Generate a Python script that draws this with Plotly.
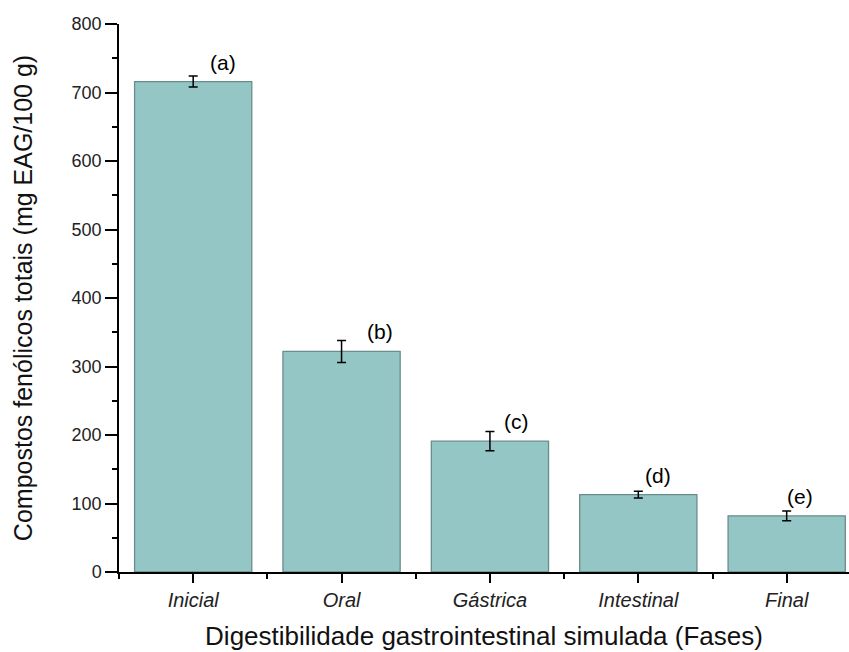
import plotly.graph_objects as go

# Total phenolic compounds across simulated digestion phases
phases = ["Inicial", "Oral", "Gástrica", "Intestinal", "Final"]
phenolics = [716, 322, 191, 113, 82]
std_dev = [8, 16, 14, 5, 7]
letters = ["(a)", "(b)", "(c)", "(d)", "(e)"]

# horizontal nudge of each significance letter (category units)
letter_dx = [0.2, 0.26, 0.18, 0.13, 0.09]

font_family = "Liberation Sans, Arial, sans-serif"
x_idx = list(range(len(phases)))

fig = go.Figure()
fig.add_trace(go.Bar(
    x=x_idx,
    y=phenolics,
    width=0.79,
    marker=dict(color="rgb(147,198,197)", line=dict(color="rgb(105,140,140)", width=1.3)),
    error_y=dict(type="data", array=std_dev, visible=True, color="black",
                 thickness=1.5, width=4.5),
    showlegend=False,
    cliponaxis=False,
))

for i, (lab, v, dx) in enumerate(zip(letters, phenolics, letter_dx)):
    fig.add_annotation(x=i + dx, y=v, text=lab, showarrow=False,
                       xanchor="center", yanchor="bottom", yshift=6,
                       font=dict(size=21, color="black", family=font_family))

fig.update_layout(
    width=849, height=652,
    margin=dict(l=119, r=0, t=24, b=80),
    plot_bgcolor="white", paper_bgcolor="white",
    font=dict(family=font_family, color="black"),
    bargap=0.2,
)

fig.update_xaxes(
    range=[-0.5, 4.42],
    tickmode="array", tickvals=x_idx,
    ticktext=[f"<i>{p}</i>" for p in phases],
    tickfont=dict(size=20, color="#222"),
    ticks="outside", ticklen=9, tickwidth=1.5, tickcolor="black",
    showline=True, linecolor="black", linewidth=1.5,
    showgrid=False, zeroline=False, automargin=False,
    minor=dict(tickmode="array", tickvals=[-0.5, 0.5, 1.5, 2.5, 3.5],
               ticks="outside", ticklen=5, tickwidth=1.5, tickcolor="black"),
    title=dict(text="Digestibilidade gastrointestinal simulada (Fases)",
               font=dict(size=26, color="#111"), standoff=17),
)

fig.update_yaxes(
    range=[0, 800],
    tickmode="linear", tick0=0, dtick=100,
    tickfont=dict(size=18, color="#222"),
    ticks="outside", ticklen=12, tickwidth=1.5, tickcolor="black",
    showline=True, linecolor="black", linewidth=1.5,
    showgrid=False, zeroline=False, automargin=False,
    minor=dict(dtick=50, ticks="outside", ticklen=5, tickwidth=1.5, tickcolor="black"),
    title=dict(text="Compostos fenólicos totais (mg EAG/100 g)",
               font=dict(size=25, color="#111"), standoff=32),
)

fig.write_html("out.html")
